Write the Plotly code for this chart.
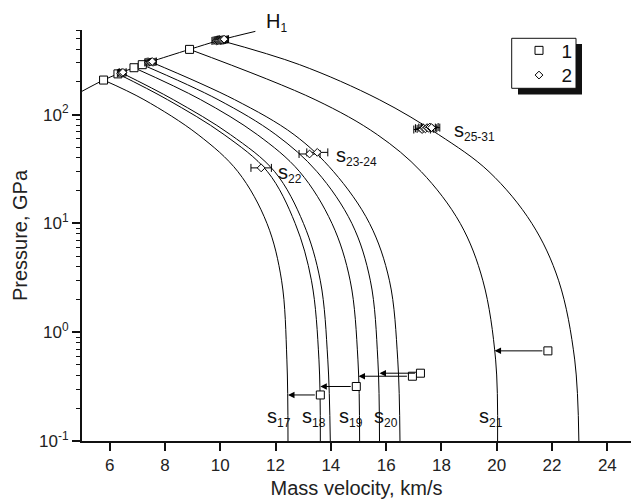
import numpy as np
import plotly.graph_objects as go

# ---------------- data ----------------
# Hugoniot H1
h1_u = [5.0, 5.78, 6.30, 6.88, 7.18, 7.48, 8.89, 9.98, 11.27]
h1_p = [164, 208, 237, 270, 288, 306, 398, 483, 583]

# release isentropes (u in km/s, P in GPa)
rel_p = [137.4, 65.5, 29.9, 10.0, 2.97, 0.557, 0.1]
c1_u = [5.78, 7.24, 9.20, 10.64, 11.69, 12.22, 12.41, 12.45]
c2_u = [6.30, 8.09, 10.14, 11.71, 12.71, 13.30, 13.57, 13.62]
c3_u = [6.42, 8.30, 10.37, 11.97, 13.01, 13.62, 13.89, 13.98]
c4_u = [6.88, 9.29, 11.34, 12.87, 14.04, 14.70, 14.98, 15.04]
c5_u = [7.18, 9.92, 12.01, 13.50, 14.76, 15.43, 15.70, 15.76]
c6_u = [7.48, 10.52, 12.67, 14.10, 15.40, 16.12, 16.42, 16.50]
c7_u = [8.89, 13.43, 15.68, 17.27, 18.68, 19.50, 19.96, 20.03]
c8_u = [9.98, 12.87, 15.75, 17.90, 19.72, 21.27, 22.24, 22.82, 22.97]
c1_p = [208] + rel_p
c2_p = [237] + rel_p
c3_p = [243] + rel_p
c4_p = [270] + rel_p
c5_p = [288] + rel_p
c6_p = [306] + rel_p
c7_p = [398] + rel_p
c8_p = [483, 288] + rel_p

# series 1 (squares)
s1_u = [5.78, 6.30, 6.88, 7.18, 8.89, 21.85, 17.24, 16.95, 14.92, 13.62]
s1_p = [208, 237, 270, 288, 398, 0.674, 0.42, 0.394, 0.317, 0.265]

# series 2 (diamonds with velocity error bars)
s2_u = [11.48, 13.23, 13.51,
        17.30, 17.36, 17.42, 17.48, 17.53, 17.58, 17.64,
        6.40, 6.44, 6.48,
        7.42, 7.46, 7.50, 7.54,
        9.86, 9.90, 9.94, 9.97, 10.00, 10.03, 10.06, 10.10, 10.14]
s2_p = [32.4, 43.5, 45.0,
        73, 75, 74, 76, 75, 77, 76,
        240, 243, 245,
        302, 305, 306, 308,
        476, 479, 481, 483, 485, 487, 489, 491, 494]
s2_err = [0.37, 0.38, 0.38,
          0.30, 0.30, 0.30, 0.30, 0.30, 0.30, 0.30,
          0.12, 0.12, 0.12,
          0.15, 0.15, 0.15, 0.15,
          0.16, 0.16, 0.16, 0.16, 0.16, 0.16, 0.16, 0.16, 0.16]

# arrows (from measured square to isentrope)
arr_from_u = [21.85, 17.24, 16.95, 14.92, 13.62]
arr_to_u = [19.92, 15.76, 15.00, 13.62, 12.45]
arr_p = [0.674, 0.42, 0.394, 0.317, 0.265]

x_ticks = [6, 8, 10, 12, 14, 16, 18, 20, 22, 24]
y_ticks = [0.1, 1, 10, 100]
y_ticktext = ["10<sup>-1</sup>", "10<sup>0</sup>", "10<sup>1</sup>", "10<sup>2</sup>"]

# ---------------- figure ----------------
FONT = "Liberation Sans, Arial, sans-serif"
fig = go.Figure()

curves = [(c1_u, c1_p), (c2_u, c2_p), (c3_u, c3_p), (c4_u, c4_p),
          (c5_u, c5_p), (c6_u, c6_p), (c7_u, c7_p), (c8_u, c8_p)]
for cu, cp in curves:
    fig.add_trace(go.Scatter(x=cu, y=cp, mode="lines", showlegend=False,
                             line=dict(color="black", width=1, shape="spline"),
                             hoverinfo="skip"))

fig.add_trace(go.Scatter(x=h1_u, y=h1_p, mode="lines", showlegend=False,
                         line=dict(color="black", width=1, shape="spline"),
                         hoverinfo="skip"))

fig.add_trace(go.Scatter(x=s1_u, y=s1_p, mode="markers", name="1",
                         legend="legend",
                         marker=dict(symbol="square", size=8, color="white",
                                     line=dict(color="black", width=1))))

fig.add_trace(go.Scatter(x=s2_u, y=s2_p, mode="markers", name="2",
                         legend="legend2",
                         marker=dict(symbol="diamond", size=6, color="white",
                                     line=dict(color="black", width=1)),
                         error_x=dict(type="data", array=s2_err, symmetric=True,
                                      color="black", thickness=1, width=4)))

annotations = []
for fu, tu, p in zip(arr_from_u, arr_to_u, arr_p):
    annotations.append(dict(x=tu, y=np.log10(p), ax=fu, ay=np.log10(p),
                            xref="x", yref="y", axref="x", ayref="y",
                            text="", showarrow=True, arrowhead=2, arrowsize=1.3,
                            arrowwidth=1, arrowcolor="black",
                            startstandoff=4, standoff=0))

# H1 label sits above the plotting area -> paper y
annotations.append(dict(
    x=11.57, y=(441 - 22) / 411, xref="x", yref="paper", showarrow=False,
    xanchor="left", yanchor="middle",
    text="H<sub><span style='font-size:12px'>1</span></sub>",
    font=dict(family=FONT, size=20, color="#111")))

labels = [
    ("s", "17", 11.61, -0.78),
    ("s", "18", 12.88, -0.78),
    ("s", "19", 14.21, -0.78),
    ("s", "20", 15.47, -0.78),
    ("s", "21", 19.27, -0.78),
    ("s", "22", 12.00, 1.46),
    ("s", "23-24", 14.13, 1.615),
    ("s", "25-31", 18.37, 1.845),
]
for main, sub, lx, ly in labels:
    annotations.append(dict(
        x=lx, y=ly, xref="x", yref="y", showarrow=False,
        xanchor="left", yanchor="middle",
        text=f"{main}<sub><span style='font-size:12px'>{sub}</span></sub>",
        font=dict(family=FONT, size=20, color="#111")))


def px_x(px):
    return (px - 82) / 549


def px_y(py):
    return (441 - py) / 411


# legend frame with drop shadow
shapes = [
    dict(type="rect", xref="paper", yref="paper",
         x0=px_x(518), x1=px_x(582), y0=px_y(94.5), y1=px_y(44),
         fillcolor="#111", line=dict(width=0), layer="above"),
    dict(type="rect", xref="paper", yref="paper",
         x0=px_x(511.7), x1=px_x(576), y0=px_y(88.3), y1=px_y(38.3),
         fillcolor="white", line=dict(width=1, color="#111"), layer="above"),
]

minor_vals = [m * 10.0 ** e for e in range(-1, 3) for m in range(2, 10)
              if m * 10.0 ** e <= 600]

leg_common = dict(xanchor="left", yanchor="top",
                  bgcolor="rgba(0,0,0,0)", borderwidth=0,
                  font=dict(family=FONT, size=19, color="#111"),
                  itemwidth=35, tracegroupgap=0)

fig.update_layout(
    width=631, height=500,
    margin=dict(l=82, r=0, t=30, b=59),
    paper_bgcolor="white", plot_bgcolor="white",
    font=dict(family=FONT, size=16, color="#222"),
    showlegend=True,
    legend=dict(x=px_x(516.5), y=px_y(31.5), **leg_common),
    legend2=dict(x=px_x(516.5), y=px_y(56.2), **leg_common),
    annotations=annotations,
    shapes=shapes,
    xaxis=dict(range=[5, 5 + 549 / 27.65], tickvals=x_ticks,
               ticks="outside", ticklen=8, tickwidth=1.5, tickcolor="#111",
               showline=True, linewidth=2, linecolor="#111",
               showgrid=False, zeroline=False,
               tickfont=dict(size=17),
               title=dict(text="Mass velocity, km/s", font=dict(size=20),
                          standoff=7)),
    yaxis=dict(type="log", range=[-1, np.log10(600)],
               tickvals=y_ticks, ticktext=y_ticktext,
               ticks="outside", ticklen=8, tickwidth=1.5, tickcolor="#111",
               minor=dict(tickvals=minor_vals, ticks="outside", ticklen=4,
                          tickwidth=1, tickcolor="#111"),
               showline=True, linewidth=2, linecolor="#111",
               showgrid=False, zeroline=False,
               tickfont=dict(size=17),
               title=dict(text="Pressure, GPa", font=dict(size=20),
                          standoff=6)),
)

fig.write_html("out.html")
